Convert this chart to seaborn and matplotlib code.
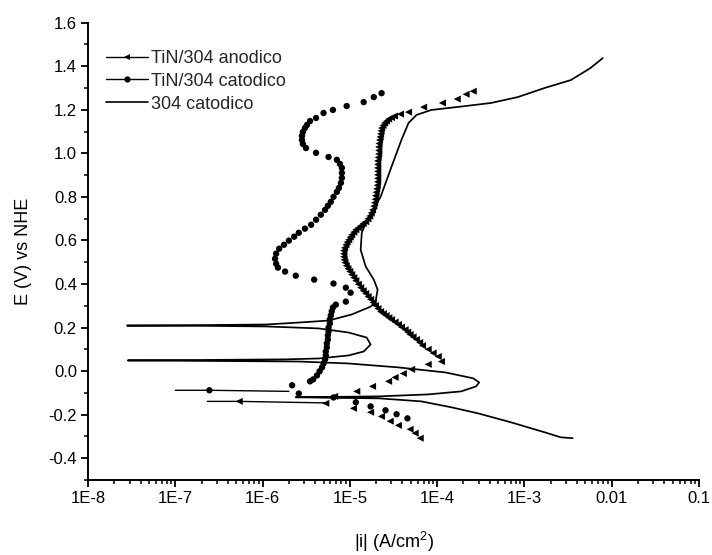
import matplotlib
matplotlib.use("Agg")
import matplotlib.pyplot as plt
from matplotlib.lines import Line2D
from matplotlib.ticker import FixedLocator, FixedFormatter, LogLocator, MultipleLocator, NullFormatter
import seaborn as sns

# ---------------- data ----------------
# 304 catodico (solid line)
s304_i = [3.57e-3, 2.61e-3, 1.71e-3, 7.0e-4, 2.95e-4, 1.45e-4, 6.6e-5, 2.14e-5, 7.5e-6, 2.4e-6,
          7.5e-6, 2.14e-5, 7.9e-5, 1.89e-4, 2.8e-4, 3.03e-4, 2.59e-4, 1.24e-4, 3.6e-5, 9.7e-6,
          2.6e-6, 1.9e-7, 2.86e-8, 1.9e-7, 1.86e-6, 4.4e-6, 9.7e-6, 1.44e-5, 1.73e-5, 1.56e-5,
          9.7e-6, 4.4e-6, 1.1e-6, 1.9e-7, 2.8e-8, 1.9e-7, 1.1e-6, 2.6e-6, 5.7e-6, 1.05e-5,
          1.73e-5, 1.97e-5, 2.08e-5, 1.88e-5, 1.52e-5, 1.33e-5, 1.37e-5, 1.52e-5, 2.25e-5, 3.0e-5,
          3.9e-5, 4.7e-5, 5.8e-5, 8.6e-5, 1.75e-4, 4.15e-4, 8.4e-4, 1.71e-3, 3.4e-3, 5.7e-3, 7.9e-3]
s304_E = [-0.308, -0.304, -0.281, -0.235, -0.194, -0.166, -0.139, -0.125, -0.123, -0.120,
          -0.118, -0.116, -0.107, -0.093, -0.070, -0.052, -0.033, -0.006, 0.017, 0.035,
          0.044, 0.047, 0.049, 0.051, 0.054, 0.058, 0.072, 0.090, 0.122, 0.154,
          0.177, 0.196, 0.205, 0.208, 0.209, 0.211, 0.214, 0.223, 0.232, 0.260,
          0.296, 0.319, 0.374, 0.420, 0.480, 0.557, 0.635, 0.681, 0.800, 0.938,
          1.061, 1.139, 1.176, 1.199, 1.213, 1.231, 1.258, 1.300, 1.336, 1.391, 1.437]

# TiN/304 anodico (triangles)
anod_E = [-0.308, -0.285, -0.267, -0.249, -0.230, -0.208, -0.189, -0.171, -0.148, -0.139,
          -0.116, -0.093, -0.070, -0.047, -0.029, -0.011, 0.008, 0.031, 0.044,
          0.067, 0.083, 0.100, 0.117, 0.131, 0.145, 0.157, 0.168, 0.179, 0.190,
          0.202, 0.214, 0.225, 0.236, 0.245, 0.255, 0.264, 0.273, 0.287, 0.301,
          0.315, 0.329, 0.342, 0.356, 0.369, 0.383, 0.399, 0.415, 0.429, 0.443,
          0.457, 0.470, 0.484, 0.498, 0.511, 0.525, 0.539, 0.553, 0.566, 0.580,
          0.592, 0.603, 0.615, 0.626, 0.638, 0.649, 0.658, 0.667, 0.677, 0.686,
          0.699, 0.712, 0.726, 0.740, 0.757, 0.773, 0.789, 0.805, 0.821, 0.837,
          0.853, 0.869, 0.885, 0.901, 0.917, 0.933, 0.949, 0.965, 0.981, 0.997,
          1.013, 1.029, 1.045, 1.061, 1.075, 1.089, 1.103, 1.116, 1.128, 1.139,
          1.148, 1.157, 1.164, 1.171, 1.180, 1.189, 1.212, 1.231, 1.249, 1.271, 1.285]
anod_i = [6.4e-5, 5.6e-5, 4.9e-5, 3.6e-5, 2.9e-5, 2.3e-5, 1.73e-5, 1.1e-5, 5.3e-6, 5.4e-7,
          6.7e-6, 1.2e-5, 1.82e-5, 2.78e-5, 3.3e-5, 4.1e-5, 5.1e-5, 7.9e-5, 1.12e-4,
          1.03e-4, 9.0e-5, 7.9e-5, 6.8e-5, 6.3e-5, 5.8e-5, 5.3e-5, 4.9e-5, 4.6e-5, 4.3e-5,
          3.9e-5, 3.6e-5, 3.3e-5, 3.0e-5, 2.8e-5, 2.6e-5, 2.42e-5, 2.25e-5, 2.1e-5, 1.97e-5,
          1.85e-5, 1.73e-5, 1.62e-5, 1.52e-5, 1.42e-5, 1.33e-5, 1.25e-5, 1.17e-5, 1.11e-5, 1.05e-5,
          1.0e-5, 9.5e-6, 9.1e-6, 8.8e-6, 8.6e-6, 8.5e-6, 8.5e-6, 8.5e-6, 8.7e-6, 9.0e-6,
          9.3e-6, 9.7e-6, 1.01e-5, 1.05e-5, 1.11e-5, 1.17e-5, 1.25e-5, 1.33e-5, 1.42e-5, 1.52e-5,
          1.61e-5, 1.69e-5, 1.76e-5, 1.82e-5, 1.88e-5, 1.92e-5, 1.95e-5, 1.97e-5, 2.0e-5, 2.03e-5,
          2.06e-5, 2.08e-5, 2.08e-5, 2.08e-5, 2.08e-5, 2.08e-5, 2.08e-5, 2.08e-5, 2.11e-5, 2.14e-5,
          2.14e-5, 2.14e-5, 2.16e-5, 2.19e-5, 2.22e-5, 2.25e-5, 2.28e-5, 2.31e-5, 2.4e-5, 2.5e-5,
          2.63e-5, 2.78e-5, 3.0e-5, 3.25e-5, 3.8e-5, 4.7e-5, 7.0e-5, 1.15e-4, 1.7e-4, 2.15e-4, 2.59e-4]
anod_tail_i = [2.33e-7, 5.4e-7, 5.3e-6]
anod_tail_E = [-0.139, -0.139, -0.146]

# TiN/304 catodico (dots)
cat_E = [1.276, 1.258, 1.235, 1.217, 1.199, 1.185, 1.162, 1.148, 1.130, 1.116,
         1.098, 1.080, 1.061, 1.043, 1.024, 1.002, 0.983, 0.970, 0.951, 0.933,
         0.910, 0.887, 0.864, 0.841, 0.823, 0.800, 0.777, 0.759, 0.740, 0.718,
         0.695, 0.672, 0.654, 0.635, 0.617, 0.599, 0.580, 0.562, 0.539, 0.516,
         0.493, 0.475, 0.457, 0.438, 0.420, 0.402, 0.383, 0.360, 0.319, 0.305,
         0.292, 0.274, 0.255, 0.237, 0.219, 0.200, 0.182, 0.164, 0.145, 0.127,
         0.109, 0.090, 0.072, 0.054, 0.035, 0.017, -0.001, -0.020, -0.038, -0.047,
         -0.065, -0.088, -0.103, -0.121, -0.143, -0.162, -0.180, -0.198, -0.217]
cat_i = [2.31e-5, 1.88e-5, 1.44e-5, 9.2e-6, 6.4e-6, 5.0e-6, 4.1e-6, 3.5e-6, 3.23e-6, 3.06e-6,
         2.9e-6, 2.83e-6, 2.83e-6, 2.9e-6, 3.14e-6, 4.1e-6, 5.7e-6, 7.1e-6, 7.7e-6, 8.1e-6,
         8.1e-6, 8.1e-6, 7.9e-6, 7.5e-6, 7.1e-6, 6.5e-6, 6.05e-6, 5.6e-6, 5.2e-6, 4.65e-6,
         4.1e-6, 3.6e-6, 3.06e-6, 2.6e-6, 2.3e-6, 2.0e-6, 1.76e-6, 1.55e-6, 1.43e-6, 1.39e-6,
         1.43e-6, 1.5e-6, 1.81e-6, 2.4e-6, 3.9e-6, 6.5e-6, 9.0e-6, 1.02e-5, 9.0e-6, 6.9e-6,
         6.4e-6, 6.2e-6, 6.05e-6, 5.9e-6, 5.9e-6, 5.7e-6, 5.7e-6, 5.6e-6, 5.6e-6, 5.45e-6,
         5.45e-6, 5.3e-6, 5.3e-6, 5.2e-6, 5.0e-6, 4.8e-6, 4.5e-6, 4.2e-6, 3.8e-6, 3.5e-6,
         2.18e-6, 2.46e-7, 2.6e-6, 6.5e-6, 1.17e-5, 1.73e-5, 2.56e-5, 3.43e-5, 4.57e-5]
cat_tail_i = [1.0e-7, 2.46e-7, 2.0e-6]
cat_tail_E = [-0.088, -0.088, -0.093]

xtick_values = [1e-8, 1e-7, 1e-6, 1e-5, 1e-4, 1e-3, 1e-2, 1e-1]
xtick_labels = ["1E-8", "1E-7", "1E-6", "1E-5", "1E-4", "1E-3", "0.01", "0.1"]
ytick_values = [-0.4, -0.2, 0.0, 0.2, 0.4, 0.6, 0.8, 1.0, 1.2, 1.4, 1.6]
ytick_labels = ["-0.4", "-0.2", "0.0", "0.2", "0.4", "0.6", "0.8", "1.0", "1.2", "1.4", "1.6"]
series_labels = ["TiN/304 anodico", "TiN/304 catodico", "304 catodico"]

# ---------------- figure ----------------
sns.set_theme(style="ticks")
plt.rcParams["font.family"] = ["Liberation Sans", "DejaVu Sans"]
plt.rcParams["mathtext.fontset"] = "custom"
plt.rcParams["mathtext.rm"] = "Liberation Sans"

fig = plt.figure(figsize=(7.12, 5.55), dpi=100)
ax = fig.add_axes([0.1236, 0.1351, 0.8581, 0.8242])
ax.set_xscale("log")

sns.lineplot(x=s304_i, y=s304_E, sort=False, estimator=None, color="black",
             linewidth=1.25, ax=ax)
sns.lineplot(x=anod_tail_i, y=anod_tail_E, sort=False, estimator=None, color="black",
             linewidth=1.0, ax=ax)
sns.lineplot(x=cat_tail_i, y=cat_tail_E, sort=False, estimator=None, color="black",
             linewidth=1.0, ax=ax)
sns.scatterplot(x=anod_i, y=anod_E, marker="<", s=26, color="black", edgecolor="none",
                linewidth=0, ax=ax)
sns.scatterplot(x=cat_i, y=cat_E, marker="o", s=21, color="black", edgecolor="none",
                linewidth=0, ax=ax)

ax.set_xlim(1e-8, 0.1)
ax.set_ylim(-0.5, 1.6)

ax.xaxis.set_major_locator(FixedLocator(xtick_values))
ax.xaxis.set_major_formatter(FixedFormatter(xtick_labels))
ax.xaxis.set_minor_locator(LogLocator(base=10, subs=range(2, 10), numticks=20))
ax.xaxis.set_minor_formatter(NullFormatter())
ax.yaxis.set_major_locator(FixedLocator(ytick_values))
ax.yaxis.set_major_formatter(FixedFormatter(ytick_labels))
ax.yaxis.set_minor_locator(MultipleLocator(0.1))

for side in ["top", "right"]:
    ax.spines[side].set_visible(False)
for side in ["left", "bottom"]:
    ax.spines[side].set_linewidth(1.4)
    ax.spines[side].set_color("black")

ax.tick_params(which="major", direction="out", length=5, width=1.3, labelsize=12,
               colors="black", pad=3)
ax.tick_params(which="minor", direction="out", length=3, width=1.1, colors="black")

ax.set_xlabel("|i| (A/cm$^2$)", fontsize=13, labelpad=17, color="black")
ax.set_ylabel("E (V) vs NHE", fontsize=13, labelpad=12, color="black")

handles = [
    Line2D([], [], color="black", lw=1.0, marker="<", markersize=5, markeredgewidth=0),
    Line2D([], [], color="black", lw=1.0, marker="o", markersize=4.5, markeredgewidth=0),
    Line2D([], [], color="black", lw=1.2),
]
ax.legend(handles, series_labels, loc="upper left", bbox_to_anchor=(0.021, 0.952),
          frameon=False, fontsize=13, handlelength=2.3, handletextpad=0.2,
          labelspacing=0.32, borderaxespad=0, borderpad=0.3)

fig.savefig("out.png", dpi=100, facecolor="white")
